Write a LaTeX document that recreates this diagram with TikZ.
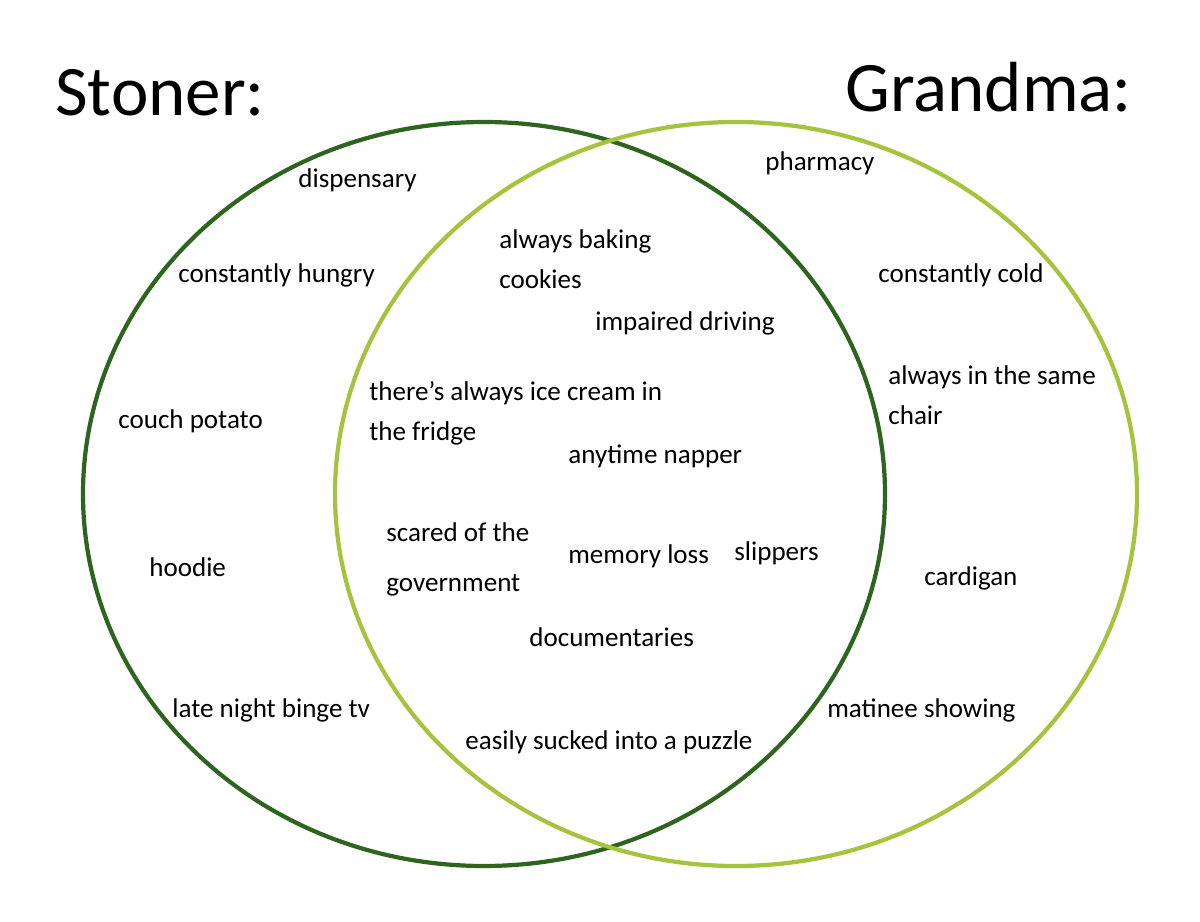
\documentclass[tikz,border=0pt]{standalone}
\usepackage{fontspec}
\setmainfont{Carlito}
\definecolor{stonergreen}{RGB}{45,100,30}
\definecolor{grandmagreen}{RGB}{165,195,60}

\begin{document}
\begin{tikzpicture}[x=0.02cm, y=-0.02cm,
        trait/.style={anchor=base west, inner sep=0pt, align=left,
            font=\fontsize{15.4}{22.7}\selectfont},
        heading/.style={anchor=base west, inner sep=0pt,
            font=\fontsize{40.4}{48}\selectfont}]
        \useasboundingbox (0,0) rectangle (1200,922);

        % The two sets
        \draw[stonergreen, line width=2.4pt] (484,494) ellipse [x radius=401, y radius=372];
        \draw[grandmagreen, line width=2.4pt] (736,494) ellipse [x radius=401, y radius=372];

        % Titles (base of the last line is the anchor)
        \node[heading] (stoner) at (55,116) {Stoner:};
        \node[heading] (grandma) at (845,112) {Grandma:};

        % Stoner only
        \node[trait] (dispensary) at (298,188) {dispensary};
        \node[trait] (hungry) at (178,282) {constantly hungry};
        \node[trait] (couch) at (118,428) {couch potato};
        \node[trait] (hoodie) at (149,576) {hoodie};
        \node[trait] (bingetv) at (172,717) {late night binge tv};

        % Grandma only
        \node[trait] (pharmacy) at (765,171) {pharmacy};
        \node[trait] (cold) at (878,282) {constantly cold};
        \node[trait] (chair) at (888,424) {always in the same\\chair};
        \node[trait] (cardigan) at (924,585) {cardigan};
        \node[trait] (matinee) at (827,717) {matinee showing};

        % Both
        \node[trait] (cookies) at (499,288) {always baking\\cookies};
        \node[trait] (driving) at (595,330) {impaired driving};
        \node[trait] (icecream) at (369,440) {there’s always ice cream in\\the fridge};
        \node[trait] (napper) at (568,463) {anytime napper};
        \node[trait] (government) at (386,591) {scared of the\\[5.2pt]government};
        \node[trait] (memory) at (568,563) {memory loss};
        \node[trait] (slippers) at (734,560) {slippers};
        \node[trait] (documentaries) at (529,646) {documentaries};
        \node[trait] (puzzle) at (465,749) {easily sucked into a puzzle};
\end{tikzpicture}
\end{document}
